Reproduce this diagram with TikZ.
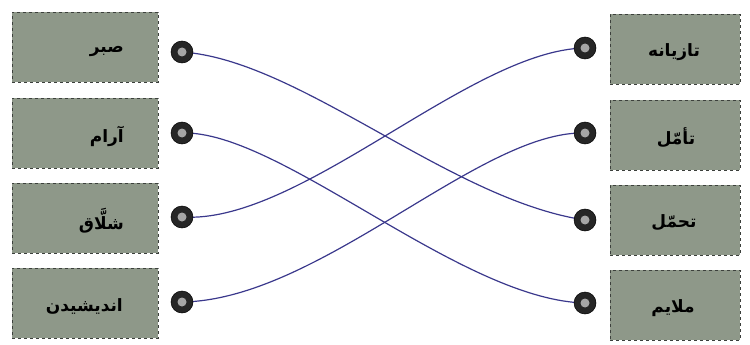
\documentclass[tikz,border=0pt]{standalone}
\usepackage{fontspec}
\newfontfamily\arabicfont[Script=Arabic]{DejaVu Sans}
\TeXXeTstate=1
\definecolor{boxfill}{RGB}{142,152,137}
\definecolor{boxline}{RGB}{60,64,60}
\definecolor{wire}{RGB}{58,56,140}
\begin{document}
\begin{tikzpicture}[x=1pt,y=-1pt,
  wordbox/.style={draw=boxline,dashed,line width=0.9pt,fill=boxfill,minimum width=146pt,minimum height=70pt,inner sep=0pt},
  wordboxr/.style={wordbox,minimum width=130pt},
  word/.style={inner sep=0pt,font=\arabicfont\bfseries\fontsize{17}{20}\selectfont},
  dot/.style={circle,fill=black!85,draw=black,line width=0.5pt,minimum size=22pt,inner sep=0pt,path picture={\fill[gray!70] (path picture bounding box.center) circle (4.5pt);}},
  wire/.style={draw=wire,line width=1.2pt}]
\useasboundingbox (0,0) rectangle (750,345);
% left boxes
\node[wordbox] (a1) at (85,47) {};
\node[wordbox] (a2) at (85,133) {};
\node[wordbox] (a3) at (85,218) {};
\node[wordbox] (a4) at (85,303) {};
\node[word,anchor=east] (ta1) at (124,52) {\beginR صبر\endR};
\node[word,anchor=east] (ta2) at (124,136) {\beginR آرام\endR};
\node[word,anchor=east] (ta3) at (124,221) {\beginR شلَّاق\endR};
\node[word,anchor=east] (ta4) at (123,306) {\beginR اندیشیدن\endR};
% right boxes
\node[wordboxr] (b1) at (675,49) {};
\node[wordboxr] (b2) at (675,135) {};
\node[wordboxr] (b3) at (675,220) {};
\node[wordboxr] (b4) at (675,305) {};
\node[word] (tb1) at (674,52) {\beginR تازیانه\endR};
\node[word] (tb2) at (676,138) {\beginR تأمّل\endR};
\node[word] (tb3) at (674,223) {\beginR تحمّل\endR};
\node[word] (tb4) at (673,308) {\beginR ملایم\endR};
% wires
\coordinate (la1) at (182,52);
\coordinate (la2) at (182,133);
\coordinate (la3) at (182,217);
\coordinate (la4) at (182,302);
\coordinate (rb1) at (585,48);
\coordinate (rb2) at (585,133);
\coordinate (rb3) at (585,220);
\coordinate (rb4) at (585,303);
\draw[wire] (la1) .. controls (300,60) and (450,200) .. (rb3);
\draw[wire] (la2) .. controls (280,130) and (460,300) .. (rb4);
\draw[wire] (la3) .. controls (300,225) and (470,50) .. (rb1);
\draw[wire] (la4) .. controls (320,300) and (480,130) .. (rb2);
% dots
\node[dot] (l1) at (la1) {};
\node[dot] (l2) at (la2) {};
\node[dot] (l3) at (la3) {};
\node[dot] (l4) at (la4) {};
\node[dot] (r1) at (rb1) {};
\node[dot] (r2) at (rb2) {};
\node[dot] (r3) at (rb3) {};
\node[dot] (r4) at (rb4) {};
\end{tikzpicture}
\end{document}
